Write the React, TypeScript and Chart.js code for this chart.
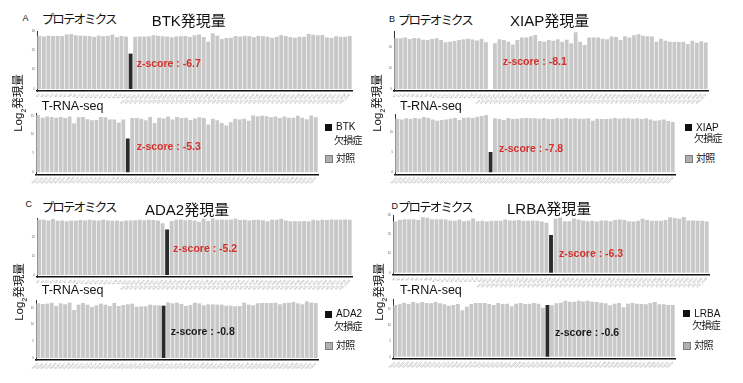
import React, { useEffect, useRef } from "react";
import { Chart, registerables } from "chart.js";
Chart.register(...registerables);

const FONT = '"Liberation Sans", "Noto Sans CJK JP", sans-serif';
const RED = "#d6302b";
const LIGHT = "#c8c8c8";
const DARK = "#2b2b2b";

// ---- data (log2 expression) ----
const BTK_PROT = [27.5, 27.2, 27.6, 27.4, 27.5, 27.4, 28.2, 28.4, 27.8, 27.6, 27.5, 27.4, 27.0, 27.6, 27.3, 27.5, 28.1, 26.8, 27.4, 27.1,
  18.3,
  27.0, 27.2, 27.1, 27.2, 27.8, 27.5, 27.3, 27.1, 26.8, 27.2, 27.3, 27.4, 26.9, 27.8, 28.2, 26.9, 24.5, 28.8, 27.6, 25.8,
  26.4, 26.5, 27.4, 27.1, 27.5, 27.3, 26.8, 27.5, 27.3, 27.0, 26.5, 27.0, 27.9, 27.4, 26.8, 26.5, 27.0, 27.0, 28.5, 28.1,
  27.8, 28.0, 26.7, 26.4, 27.3, 27.0, 27.0, 27.4];
const BTK_RNA = [15.2, 14.5, 14.8, 14.7, 14.5, 14.7, 14.4, 14.8, 13.0, 14.6, 14.7, 14.1, 13.8, 13.9, 14.7, 14.6, 14.0, 14.0, 13.2, 14.0,
  9.0,
  14.4, 14.4, 14.2, 13.8, 14.7, 13.1, 14.5, 14.3, 14.8, 14.0, 14.7, 14.4, 14.5, 13.9, 14.3, 14.6, 14.4, 12.7, 14.2, 13.8,
  13.1, 12.4, 13.3, 14.2, 14.0, 14.2, 13.7, 15.1, 14.9, 15.0, 14.9, 14.6, 14.8, 14.4, 14.8, 14.5, 14.5, 15.0, 14.5, 14.1,
  15.1, 14.6];
const XIAP_PROT = [24.0, 24.0, 24.3, 23.6, 24.1, 24.0, 23.3, 23.2, 23.7, 24.0, 23.2, 22.1, 22.4, 22.7, 23.2, 23.5, 23.8, 23.4, 22.9, 23.8, 22.1,
  0,
  21.6, 23.5, 23.2, 22.4, 21.1, 23.2, 24.3, 24.4, 25.0, 25.5, 22.7, 22.4, 23.2, 22.8, 23.5, 22.4, 23.3, 21.6, 26.8, 22.4,
  20.8, 24.4, 24.4, 24.3, 23.8, 23.5, 24.8, 24.6, 23.2, 25.0, 24.3, 25.4, 25.9, 25.2, 25.0, 24.8, 22.4, 23.8, 22.8, 22.4,
  22.2, 22.2, 22.4, 21.3, 22.8, 21.9, 22.6, 22.0];
const XIAP_RNA = [13.4, 13.2, 13.5, 13.3, 13.6, 13.4, 13.8, 13.6, 13.2, 12.9, 13.1, 13.2, 13.4, 13.6, 13.1, 13.6, 13.7, 13.6, 13.9, 14.1, 14.3,
  5.1,
  13.5, 13.3, 13.1, 13.6, 13.3, 13.4, 13.5, 13.6, 13.5, 13.5, 13.4, 13.6, 13.3, 13.3, 13.5, 13.4, 13.6, 13.4, 13.5, 13.4,
  13.4, 13.5, 12.9, 13.4, 13.3, 13.3, 13.4, 13.6, 13.4, 13.5, 13.5, 13.4, 13.5, 13.3, 13.5, 13.2, 12.9, 13.0, 13.2, 12.8, 12.6];
const ADA2_PROT = [29.0, 28.8, 28.4, 29.2, 28.3, 28.5, 28.0, 28.5, 28.3, 28.7, 28.4, 28.8, 28.6, 28.4, 28.8, 28.5, 28.3, 28.5, 28.0, 28.4,
  28.4, 28.6, 28.8, 28.6, 28.8, 28.7, 28.4, 27.0,
  23.8,
  28.2, 28.8, 29.0, 28.6, 28.9, 28.4, 27.8, 29.4, 28.2, 29.6, 28.8, 29.0, 28.9, 29.0, 29.5, 28.7, 28.9, 28.4, 28.7, 28.9,
  28.6, 28.0, 28.8, 28.9, 29.4, 28.5, 28.1, 28.1, 28.0, 28.2, 28.0, 28.8, 28.5, 28.9, 28.7, 29.0, 28.8, 28.9, 29.0, 28.9];
const ADA2_RNA = [16.4, 16.2, 16.3, 16.6, 15.6, 16.4, 16.1, 16.6, 14.4, 16.0, 16.5, 16.0, 15.3, 15.8, 16.3, 16.0, 15.6, 16.5, 15.6, 15.9,
  16.1, 16.3, 15.4, 15.5, 15.5, 16.0, 15.8, 15.8,
  15.7,
  16.7, 16.4, 16.6, 16.2, 15.6, 15.9, 16.6, 16.4, 15.8, 16.1, 16.1, 16.0, 16.0, 15.7, 15.7, 15.5, 15.6, 16.6, 16.0, 15.8,
  16.4, 16.5, 16.5, 16.5, 16.6, 16.1, 16.5, 16.6, 16.8, 16.4, 16.1, 17.0, 16.6, 16.5];
const LRBA_PROT = [26.6, 27.4, 27.8, 27.6, 27.8, 27.4, 28.8, 28.6, 27.8, 27.8, 27.8, 27.6, 27.2, 27.0, 27.6, 26.8, 27.2, 28.2, 26.8, 27.0,
  26.6, 27.0, 27.0, 27.0, 27.6, 27.2, 27.2, 27.4, 27.0, 27.0, 27.2, 27.0, 26.6, 26.0,
  19.6,
  28.0, 28.6, 26.8, 26.8, 28.2, 27.6, 27.2, 26.8, 27.0, 26.6, 27.2, 27.2, 26.8, 27.4, 27.6, 27.4, 26.8, 26.6, 27.0, 28.0,
  27.4, 27.0, 27.0, 27.0, 27.4, 28.8, 28.4, 28.0, 29.0, 27.2, 27.2, 27.0, 27.0, 26.6];
const LRBA_RNA = [16.3, 16.5, 17.0, 16.6, 17.2, 16.8, 17.2, 16.9, 16.8, 17.2, 16.8, 16.5, 16.0, 16.3, 16.6, 14.6, 15.7, 16.6, 16.9, 16.9,
  16.9, 16.6, 16.3, 16.9, 16.6, 16.7, 15.9, 16.7, 16.9, 16.6, 16.7, 16.9, 16.7, 15.4,
  16.3,
  16.2, 16.8, 17.0, 17.6, 17.3, 17.3, 17.6, 17.4, 17.6, 17.3, 17.2, 17.0, 16.8, 16.2, 16.7, 16.9, 15.6, 16.7, 16.9, 16.7,
  16.6, 16.5, 16.9, 17.2, 16.5, 16.5, 16.3, 16.3];

// index of the patient sample in each panel
const BTK_PATIENT = 20;
const XIAP_PATIENT = 21;
const ADA2_PATIENT = 28;
const LRBA_PATIENT = 34;

const PROT_TICKS_30 = [0, 10, 20, 30];
const PROT_TICKS_20 = [0, 10, 20];
const RNA_TICKS_15 = [0, 5, 10, 15];
const RNA_TICKS_10 = [0, 5, 10];

const protLabels = (n: number) =>
  Array.from({ length: n }, (_, i) => (i < 20 ? "N" + (i + 1) : "PID_" + String(i + 1).padStart(4, "0")));
const rnaLabels = (n: number) =>
  Array.from({ length: n }, (_, i) => "T" + String(i + 1).padStart(4, "0"));

type Cfg = {
  x0: number; x1: number; zeroY: number; topY: number; max: number;
  ticks: number[]; values: number[]; dark: number; labels: string[];
};

function BarChart({ cfg }: { cfg: Cfg }) {
  const ref = useRef<HTMLCanvasElement>(null);
  const ppu = (cfg.zeroY - cfg.topY) / cfg.max;
  const min = -2 / ppu;
  const left = Math.floor(cfg.x0) - 10;
  const yw = cfg.x0 - left;
  const top = Math.floor(cfg.topY) - 3;
  const padTop = cfg.topY - top;
  const bottom = cfg.zeroY + 2;
  const height = Math.ceil(bottom - top + 14);
  const xh = height - (bottom - top);
  const width = Math.ceil(cfg.x1 - left + 3);
  const padRight = width - (cfg.x1 - left);

  useEffect(() => {
    const chart = new Chart(ref.current as HTMLCanvasElement, {
      type: "bar",
      data: {
        labels: cfg.labels,
        datasets: [{
          data: cfg.values,
          backgroundColor: cfg.values.map((_, i) => (i === cfg.dark ? DARK : LIGHT)),
          borderWidth: 0,
          barPercentage: 0.85,
          categoryPercentage: 1,
        }],
      },
      options: {
        responsive: false,
        animation: false,
        devicePixelRatio: 1,
        layout: { padding: { top: padTop, right: padRight, left: 0, bottom: 0 } },
        plugins: { legend: { display: false }, tooltip: { enabled: false } },
        scales: {
          x: {
            grid: { display: false, drawTicks: false },
            border: { display: true, color: "#111", width: 1.5 },
            ticks: { autoSkip: false, maxRotation: 45, minRotation: 45, font: { size: 3, family: FONT }, color: "#9a9a9a", padding: 2 },
            afterFit: (s: any) => { s.height = xh; s.paddingLeft = 0; s.paddingRight = 0; },
          },
          y: {
            min, max: cfg.max,
            grid: { display: false, drawTicks: false },
            border: { display: true, color: "#333", width: 1 },
            ticks: { font: { size: 3, family: FONT }, color: "#666", padding: 2 },
            afterBuildTicks: (s: any) => { s.ticks = cfg.ticks.map((v) => ({ value: v })); },
            afterFit: (s: any) => { s.width = yw; s.paddingTop = 0; s.paddingBottom = 0; },
          },
        },
      } as any,
    });
    return () => chart.destroy();
  }, []);

  return (
    <canvas
      ref={ref}
      width={width}
      height={height}
      style={{ position: "absolute", left, top, width, height }}
    />
  );
}

function T({ x, y, s, c = "#111", w = 400, ls = 0, children }: any) {
  return (
    <div style={{
      position: "absolute", left: x, top: y, fontSize: s, lineHeight: 1, color: c, fontWeight: w,
      fontFamily: FONT, whiteSpace: "nowrap", transform: "translateY(-50%)", letterSpacing: ls,
    }}>{children}</div>
  );
}

function VLabel({ x, y }: { x: number; y: number }) {
  return (
    <div style={{
      position: "absolute", left: x, top: y, fontSize: 11.5, lineHeight: 1, color: "#111", fontFamily: FONT,
      whiteSpace: "nowrap", transform: "translate(-50%,-50%) rotate(-90deg)",
    }}>Log<sub style={{ fontSize: 7 }}>2</sub>発現量</div>
  );
}

function Legend({ x, y1, y2, y3, gene }: any) {
  return (
    <>
      <div style={{ position: "absolute", left: x, top: y1 - 3.5, width: 7, height: 7, background: "#111" }} />
      <T x={x + 11} y={y1} s={10}>{gene}</T>
      <T x={x + 9} y={y2} s={10} ls={-0.8}>欠損症</T>
      <div style={{ position: "absolute", left: x, top: y3 - 4, width: 6, height: 6, background: "#b0b0b0", border: "1px solid #7e7e7e" }} />
      <T x={x + 11} y={y3} s={10} ls={-0.8}>対照</T>
    </>
  );
}

const charts: Cfg[] = [
  { x0: 37, x1: 352, zeroY: 89, topY: 31, max: 30, ticks: PROT_TICKS_30, values: BTK_PROT, dark: BTK_PATIENT, labels: protLabels(BTK_PROT.length) },
  { x0: 36, x1: 318, zeroY: 172.3, topY: 113.5, max: 15.6, ticks: RNA_TICKS_15, values: BTK_RNA, dark: BTK_PATIENT, labels: rnaLabels(BTK_RNA.length) },
  { x0: 394, x1: 708, zeroY: 89, topY: 31.7, max: 27.1, ticks: PROT_TICKS_20, values: XIAP_PROT, dark: XIAP_PATIENT, labels: protLabels(XIAP_PROT.length) },
  { x0: 395, x1: 675, zeroY: 172.3, topY: 114.7, max: 14.4, ticks: RNA_TICKS_10, values: XIAP_RNA, dark: XIAP_PATIENT, labels: rnaLabels(XIAP_RNA.length) },
  { x0: 37, x1: 352, zeroY: 275, topY: 218.3, max: 29.6, ticks: PROT_TICKS_20, values: ADA2_PROT, dark: ADA2_PATIENT, labels: protLabels(ADA2_PROT.length) },
  { x0: 36, x1: 318, zeroY: 358, topY: 300, max: 17.4, ticks: RNA_TICKS_15, values: ADA2_RNA, dark: ADA2_PATIENT, labels: rnaLabels(ADA2_RNA.length) },
  { x0: 393, x1: 709, zeroY: 272.7, topY: 215, max: 30, ticks: PROT_TICKS_30, values: LRBA_PROT, dark: LRBA_PATIENT, labels: protLabels(LRBA_PROT.length) },
  { x0: 393, x1: 675, zeroY: 356.7, topY: 299.5, max: 18, ticks: RNA_TICKS_15, values: LRBA_RNA, dark: LRBA_PATIENT, labels: rnaLabels(LRBA_RNA.length) },
];

export default function App() {
  return (
    <div style={{ position: "absolute", left: 0, top: 0, width: 743, height: 383, background: "#fff", overflow: "hidden" }}>
      {charts.map((c, i) => <BarChart key={i} cfg={c} />)}

      {/* panel letters */}
      <T x={22.5} y={17.5} s={9}>A</T>
      <T x={389} y={18.5} s={9}>B</T>
      <T x={25.5} y={203.5} s={9}>C</T>
      <T x={391.5} y={205.5} s={9}>D</T>

      {/* section headers */}
      <T x={41.7} y={20} s={12.5} ls={-1.9}>プロテオミクス</T>
      <T x={398} y={20.5} s={12.5} ls={-1.9}>プロテオミクス</T>
      <T x={41.7} y={208} s={12.5} ls={-1.9}>プロテオミクス</T>
      <T x={398} y={207.7} s={12.5} ls={-1.9}>プロテオミクス</T>

      <T x={151.7} y={19.5} s={15}>BTK発現量</T>
      <T x={510} y={19.5} s={15}>XIAP発現量</T>
      <T x={145} y={208.5} s={15}>ADA2発現量</T>
      <T x={507} y={208.3} s={15}>LRBA発現量</T>

      <T x={41.7} y={106} s={12.5}>T-RNA-seq</T>
      <T x={400} y={106} s={12.5}>T-RNA-seq</T>
      <T x={41.7} y={290} s={12.5}>T-RNA-seq</T>
      <T x={400} y={289.5} s={12.5}>T-RNA-seq</T>

      {/* z-scores */}
      <T x={136.7} y={62.5} s={10.5} w={700} c={RED}>z-score : -6.7</T>
      <T x={136.7} y={146} s={10.5} w={700} c={RED}>z-score : -5.3</T>
      <T x={502.7} y={61} s={10.5} w={700} c={RED}>z-score : -8.1</T>
      <T x={499} y={148} s={10.5} w={700} c={RED}>z-score : -7.8</T>
      <T x={173} y={247.5} s={10.5} w={700} c={RED}>z-score : -5.2</T>
      <T x={170.7} y={331} s={10.5} w={700} c="#1a1a1a">z-score : -0.8</T>
      <T x={559} y={253} s={10.5} w={700} c={RED}>z-score : -6.3</T>
      <T x={555} y={332} s={10.5} w={700} c="#1a1a1a">z-score : -0.6</T>

      {/* y-axis titles */}
      <VLabel x={20} y={103} />
      <VLabel x={379} y={103} />
      <VLabel x={21} y={292} />
      <VLabel x={381} y={292} />

      {/* legends */}
      <Legend x={325} y1={127.3} y2={141} y3={158.8} gene="BTK" />
      <Legend x={685} y1={127.7} y2={138.8} y3={158.8} gene="XIAP" />
      <Legend x={325} y1={314} y2={327} y3={345.5} gene="ADA2" />
      <Legend x={683.3} y1={313.8} y2={326.3} y3={345.5} gene="LRBA" />
    </div>
  );
}
